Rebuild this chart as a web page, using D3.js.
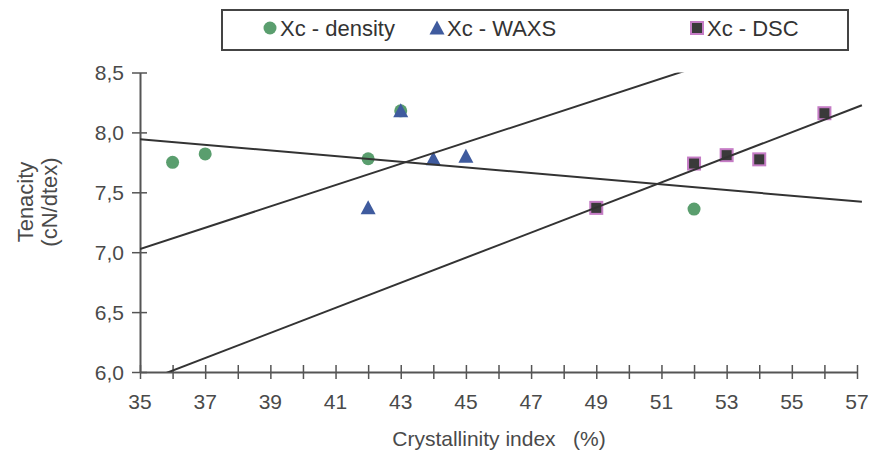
<!DOCTYPE html>
<html>
<head>
<meta charset="utf-8">
<script src="https://cdn.jsdelivr.net/npm/d3@7"></script>
<style>
  body { margin: 0; background: #fff; }
  svg { display: block; font-family: "Liberation Sans", Arial, sans-serif; }
</style>
</head>
<body>
<svg width="878" height="455"></svg>
<script>
// данные
const densityX = [36, 37, 42, 43, 52];
const densityY = [7.75, 7.82, 7.78, 8.18, 7.36];
const waxsX = [42, 43, 44, 45];
const waxsY = [7.37, 8.18, 7.78, 7.80];
const dscX = [49, 52, 53, 54, 56];
const dscY = [7.37, 7.74, 7.81, 7.775, 8.16];

const xTicks = d3.range(35, 58, 1);
const xLabels = d3.range(35, 58, 2);
const yTicks = [6.0, 6.5, 7.0, 7.5, 8.0, 8.5];

const series = [
    { name: "Xc - density", xs: densityX, ys: densityY, shape: "circle" },
    { name: "Xc - WAXS", xs: waxsX, ys: waxsY, shape: "triangle" },
    { name: "Xc - DSC", xs: dscX, ys: dscY, shape: "square" }
];

const svg = d3.select("svg");
const area = { left: 140, right: 857, top: 72.5, bottom: 372 };

const scX = d3.scaleLinear().domain([35, 57]).range([area.left, area.right]);
const scY = d3.scaleLinear().domain([6, 8.5]).range([area.bottom, area.top]);

const axisColor = "#555";
const textColor = "#4a4a4a";
const fmt = d => d3.format(".1f")(d).replace(".", ",");

// оси
const gx = svg.append("g")
    .attr("transform", `translate(0, ${area.bottom})`)
    .call(d3.axisBottom(scX).tickValues(xTicks).tickSize(0).tickFormat(""));
gx.select(".domain").attr("stroke", axisColor).attr("stroke-width", 2);
gx.selectAll(".tick").append("line")
    .attr("y1", -7).attr("y2", 7)
    .attr("stroke", axisColor).attr("stroke-width", 1.5);
svg.append("g").selectAll("text")
    .data(xLabels)
    .enter()
    .append("text")
    .attr("x", d => scX(d))
    .attr("y", area.bottom + 37)
    .attr("text-anchor", "middle")
    .style("font-size", "21px")
    .style("fill", textColor)
    .text(d => d);

const gy = svg.append("g")
    .attr("transform", `translate(${area.left}, 0)`)
    .call(d3.axisLeft(scY).tickValues(yTicks).tickSize(0).tickFormat(""));
gy.select(".domain").attr("stroke", axisColor).attr("stroke-width", 2);
gy.selectAll(".tick").append("line")
    .attr("x1", -8).attr("x2", 7)
    .attr("stroke", axisColor).attr("stroke-width", 1.5);
svg.append("g").selectAll("text")
    .data(yTicks)
    .enter()
    .append("text")
    .attr("x", area.left - 16)
    .attr("y", d => scY(d) + 7.5)
    .attr("text-anchor", "end")
    .style("font-size", "21px")
    .style("fill", textColor)
    .text(d => fmt(d));

// подписи осей
svg.append("text")
    .attr("x", 499)
    .attr("y", 446)
    .attr("text-anchor", "middle")
    .style("font-size", "21px")
    .style("fill", textColor)
    .attr("xml:space", "preserve")
    .text("Crystallinity index   (%)");

const yTitle = svg.append("text")
    .attr("transform", `translate(0, 202) rotate(-90)`)
    .attr("text-anchor", "middle")
    .style("font-size", "22px")
    .style("fill", textColor);
yTitle.append("tspan").attr("x", 0).attr("y", 33).text("Tenacity");
yTitle.append("tspan").attr("x", 0).attr("y", 57).text("(cN/dtex)");

// маркеры
function drawMarker(g, shape, x, y) {
    if (shape === "circle") {
        g.append("circle").attr("cx", x).attr("cy", y).attr("r", 6.5)
            .style("fill", "#5a9e6e");
    } else if (shape === "triangle") {
        g.append("path")
            .attr("d", `M${x},${y - 7.5} L${x + 7.5},${y + 6.5} L${x - 7.5},${y + 6.5} Z`)
            .style("fill", "#3f5b9e");
    } else {
        g.append("rect").attr("x", x - 6).attr("y", y - 6)
            .attr("width", 12).attr("height", 12)
            .style("fill", "#3a3a3a")
            .style("stroke", "#c57cc5").style("stroke-width", 2);
    }
}

const marks = svg.append("g");
series.forEach(s => {
    s.xs.forEach((x, i) => drawMarker(marks, s.shape, scX(x), scY(s.ys[i])));
});

// линии тренда (линейная регрессия по каждой серии)
svg.append("clipPath").attr("id", "plot")
    .append("rect")
    .attr("x", area.left).attr("y", area.top)
    .attr("width", area.right - area.left + 6)
    .attr("height", area.bottom - area.top);

const lines = svg.append("g").attr("clip-path", "url(#plot)");
series.forEach(s => {
    const mx = d3.mean(s.xs), my = d3.mean(s.ys);
    const sxy = d3.sum(s.xs, (x, i) => (x - mx) * (s.ys[i] - my));
    const sxx = d3.sum(s.xs, x => (x - mx) * (x - mx));
    const k = sxy / sxx;
    const f = x => my + k * (x - mx);
    lines.append("line")
        .attr("x1", scX(35)).attr("y1", scY(f(35)))
        .attr("x2", scX(57.15)).attr("y2", scY(f(57.15)))
        .style("stroke", "#333")
        .style("stroke-width", 2);
});

// легенда
const leg = svg.append("g");
leg.append("rect")
    .attr("x", 222).attr("y", 10)
    .attr("width", 626).attr("height", 40)
    .style("fill", "#fff")
    .style("stroke", "#444").style("stroke-width", 2);
const legX = [270, 437, 697];
series.forEach((s, i) => {
    drawMarker(leg, s.shape, legX[i], 28);
    leg.append("text")
        .attr("x", legX[i] + 10)
        .attr("y", 36)
        .style("font-size", "22px")
        .style("fill", "#333")
        .text(s.name);
});
</script>
</body>
</html>
